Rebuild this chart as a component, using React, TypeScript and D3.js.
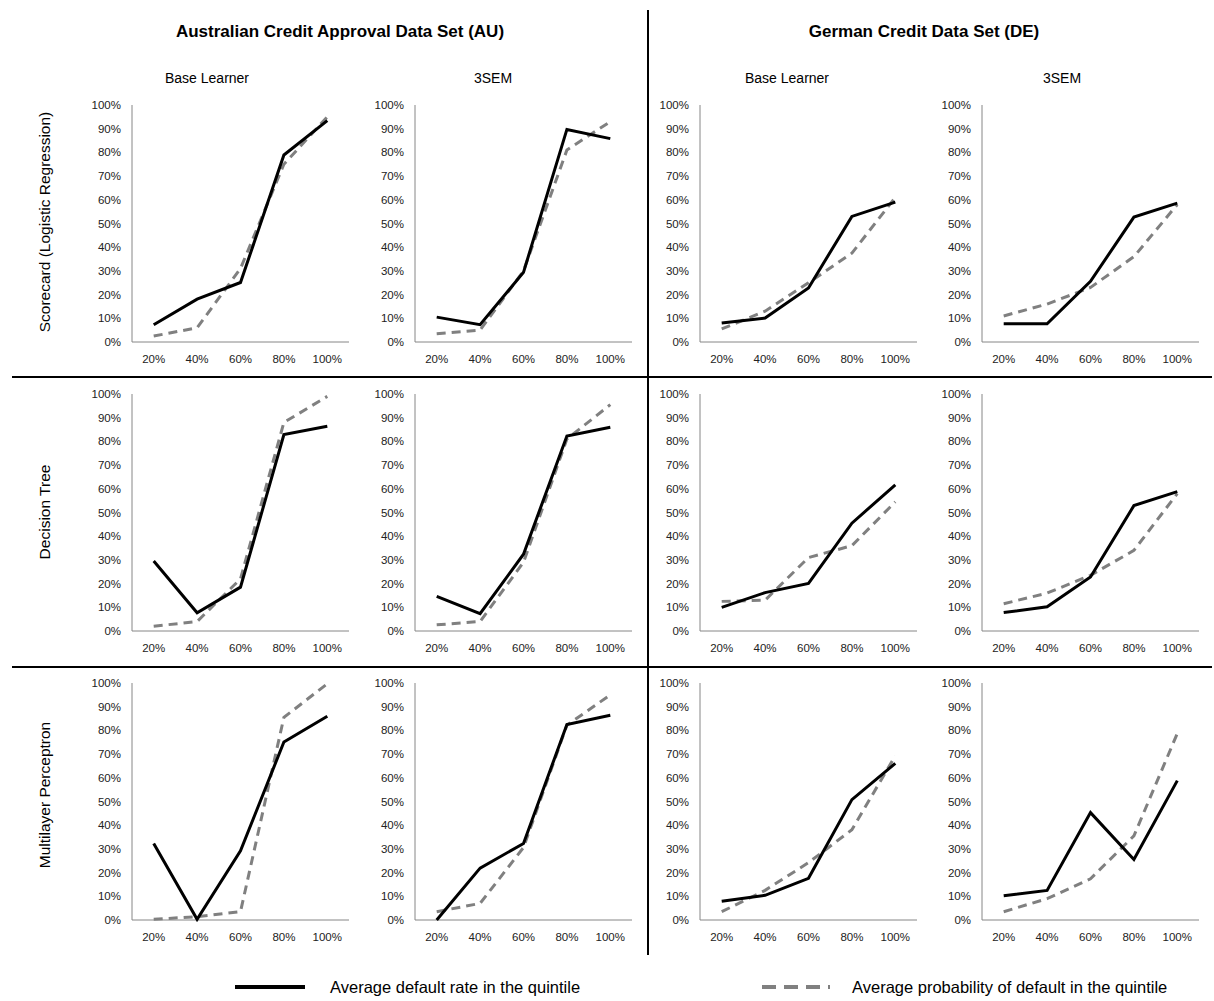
import React, { useEffect, useRef } from 'react';
import * as d3 from 'd3';

// categories and labels
const quintiles = ['20%', '40%', '60%', '80%', '100%'];
const yTicks = [0, 0.1, 0.2, 0.3, 0.4, 0.5, 0.6, 0.7, 0.8, 0.9, 1.0];
const datasets = ['Australian Credit Approval Data Set (AU)', 'German Credit Data Set (DE)'];
const learners = ['Base Learner', '3SEM'];
const models = ['Scorecard (Logistic Regression)', 'Decision Tree', 'Multilayer Perceptron'];
const legendLabels = ['Average default rate in the quintile', 'Average probability of default in the quintile'];

// default rate (solid) / probability of default (dashed)
const auScBaseRate = [0.073, 0.181, 0.251, 0.789, 0.934];
const auScBaseProb = [0.025, 0.06, 0.31, 0.75, 0.95];
const auSc3semRate = [0.105, 0.073, 0.294, 0.897, 0.858];
const auSc3semProb = [0.035, 0.05, 0.30, 0.81, 0.93];
const deScBaseRate = [0.08, 0.101, 0.228, 0.53, 0.59];
const deScBaseProb = [0.055, 0.13, 0.25, 0.375, 0.61];
const deSc3semRate = [0.077, 0.077, 0.256, 0.527, 0.586];
const deSc3semProb = [0.11, 0.16, 0.23, 0.36, 0.58];

const auDtBaseRate = [0.295, 0.077, 0.185, 0.829, 0.864];
const auDtBaseProb = [0.02, 0.04, 0.22, 0.88, 0.99];
const auDt3semRate = [0.146, 0.073, 0.324, 0.823, 0.86];
const auDt3semProb = [0.026, 0.04, 0.29, 0.81, 0.955];
const deDtBaseRate = [0.10, 0.162, 0.201, 0.455, 0.617];
const deDtBaseProb = [0.125, 0.13, 0.31, 0.36, 0.545];
const deDt3semRate = [0.078, 0.102, 0.228, 0.529, 0.588];
const deDt3semProb = [0.115, 0.16, 0.235, 0.34, 0.58];

const auMlpBaseRate = [0.323, 0.003, 0.292, 0.751, 0.86];
const auMlpBaseProb = [0.003, 0.014, 0.035, 0.855, 0.997];
const auMlp3semRate = [0.0, 0.219, 0.323, 0.825, 0.864];
const auMlp3semProb = [0.035, 0.07, 0.306, 0.822, 0.95];
const deMlpBaseRate = [0.079, 0.104, 0.176, 0.508, 0.661];
const deMlpBaseProb = [0.035, 0.125, 0.242, 0.381, 0.693];
const deMlp3semRate = [0.102, 0.125, 0.453, 0.255, 0.588];
const deMlp3semProb = [0.035, 0.09, 0.174, 0.355, 0.787];

const panels = [
  [auScBaseRate, auScBaseProb, auSc3semRate, auSc3semProb, deScBaseRate, deScBaseProb, deSc3semRate, deSc3semProb],
  [auDtBaseRate, auDtBaseProb, auDt3semRate, auDt3semProb, deDtBaseRate, deDtBaseProb, deDt3semRate, deDt3semProb],
  [auMlpBaseRate, auMlpBaseProb, auMlp3semRate, auMlp3semProb, deMlpBaseRate, deMlpBaseProb, deMlp3semRate, deMlp3semProb],
];

const W = 1214, H = 1001;
const colLeft = [132, 415, 700, 982];
const rowTop = [105, 394, 683];
const plotW = 217, plotH = 237;
const font = 'Liberation Sans, Arial, sans-serif';

export default function App() {
  const ref = useRef<SVGSVGElement>(null);

  useEffect(() => {
    const svg = d3.select(ref.current);
    svg.selectAll('*').remove();

    // headers
    const titleX = [340, 924];
    datasets.forEach((t, i) => {
      svg.append('text').attr('x', titleX[i]).attr('y', 37).attr('text-anchor', 'middle')
        .style('font-family', font).style('font-size', '17px').style('font-weight', 'bold').text(t);
    });
    const subX = [207, 493, 787, 1062];
    subX.forEach((x, i) => {
      svg.append('text').attr('x', x).attr('y', 83).attr('text-anchor', 'middle')
        .style('font-family', font).style('font-size', '14px').text(learners[i % 2]);
    });
    const rowMid = [222, 512, 795];
    models.forEach((m, i) => {
      svg.append('text').attr('transform', `translate(50,${rowMid[i]}) rotate(-90)`)
        .attr('text-anchor', 'middle').style('font-family', font).style('font-size', '15.5px').text(m);
    });

    // dividers
    svg.append('line').attr('x1', 648).attr('x2', 648).attr('y1', 10).attr('y2', 955)
      .attr('stroke', '#000').attr('stroke-width', 2);
    [377, 667].forEach(y => {
      svg.append('line').attr('x1', 12).attr('x2', 1212).attr('y1', y).attr('y2', y)
        .attr('stroke', '#000').attr('stroke-width', 2);
    });

    const x = d3.scalePoint<string>().domain(quintiles).range([0, plotW]).padding(0.5);
    const y = d3.scaleLinear().domain([0, 1]).range([plotH, 0]);
    const line = d3.line<number>().x((d, i) => x(quintiles[i]) as number).y(d => y(d));

    panels.forEach((row, r) => {
      for (let c = 0; c < 4; c++) {
        const g = svg.append('g').attr('transform', `translate(${colLeft[c]},${rowTop[r]})`);

        g.append('line').attr('x1', 0).attr('x2', 0).attr('y1', 0).attr('y2', plotH)
          .attr('stroke', '#868686').attr('stroke-width', 1);
        g.append('line').attr('x1', 0).attr('x2', plotW).attr('y1', plotH).attr('y2', plotH)
          .attr('stroke', '#868686').attr('stroke-width', 1);

        g.selectAll('.ytick').data(yTicks).enter().append('text')
          .attr('x', -11).attr('y', d => y(d)).attr('dy', '0.35em').attr('text-anchor', 'end')
          .style('font-family', font).style('font-size', '11.5px').style('fill', '#222')
          .text(d => d3.format('.0%')(d));

        g.selectAll('.xtick').data(quintiles).enter().append('text')
          .attr('x', d => x(d) as number).attr('y', plotH + 21).attr('text-anchor', 'middle')
          .style('font-family', font).style('font-size', '11.5px').style('fill', '#222')
          .text(d => d);

        const rate = row[c * 2];
        const prob = row[c * 2 + 1];
        g.append('path').attr('d', line(prob)).attr('fill', 'none')
          .attr('stroke', '#808080').attr('stroke-width', 3).attr('stroke-dasharray', '9,6');
        g.append('path').attr('d', line(rate)).attr('fill', 'none')
          .attr('stroke', '#000').attr('stroke-width', 3).attr('stroke-linejoin', 'miter');
      }
    });

    // legend
    svg.append('line').attr('x1', 235).attr('x2', 305).attr('y1', 987).attr('y2', 987)
      .attr('stroke', '#000').attr('stroke-width', 4);
    svg.append('text').attr('x', 330).attr('y', 993).style('font-family', font).style('font-size', '16.5px')
      .text(legendLabels[0]);
    svg.append('line').attr('x1', 762).attr('x2', 830).attr('y1', 987).attr('y2', 987)
      .attr('stroke', '#808080').attr('stroke-width', 4).attr('stroke-dasharray', '14,8');
    svg.append('text').attr('x', 852).attr('y', 993).style('font-family', font).style('font-size', '16.5px')
      .text(legendLabels[1]);
  }, []);

  return (
    <svg ref={ref} width={W} height={H} style={{ position: 'absolute', left: 0, top: 0, background: '#fff' }} />
  );
}
